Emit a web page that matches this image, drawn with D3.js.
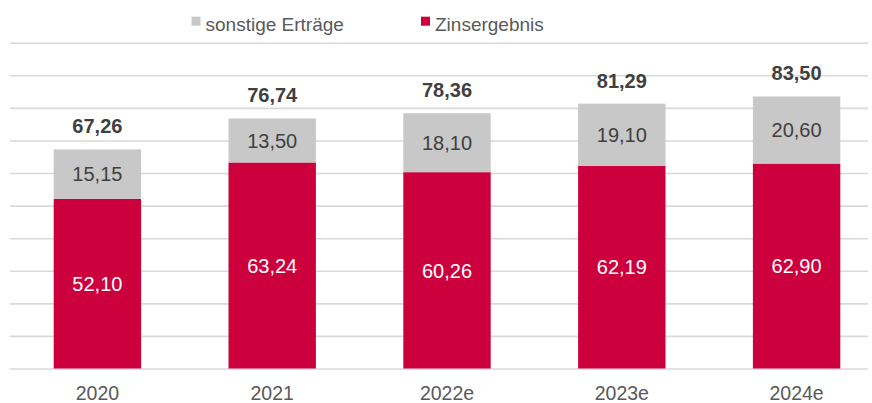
<!DOCTYPE html>
<html>
<head>
<meta charset="utf-8">
<script src="https://cdn.jsdelivr.net/npm/d3@7"></script>
<style>
  body { margin: 0; background: #fff; }
  svg { display: block; font-family: "Liberation Sans", Arial, sans-serif; }
</style>
</head>
<body>
<svg id="chart" width="872" height="403"></svg>
<script>
// Daten
const years = ['2020', '2021', '2022e', '2023e', '2024e']
const zins = [52.10, 63.24, 60.26, 62.19, 62.90]
const sonstige = [15.15, 13.50, 18.10, 19.10, 20.60]
const totals = [67.26, 76.74, 78.36, 81.29, 83.50]
const yTicks = [0, 10, 20, 30, 40, 50, 60, 70, 80, 90, 100]
const seriesNames = ['sonstige Erträge', 'Zinsergebnis']

const red = '#cc003d'
const grey = '#c8c8c8'

const svg = d3.select('#chart')
const fmt = v => d3.format('.2f')(v).replace('.', ',')

const x = d3.scaleBand()
  .domain(years)
  .range([10, 884])
  .paddingInner(0.5)
  .paddingOuter(0.25)

const y = d3.scaleLinear()
  .domain([0, 100])
  .range([368.5, 42.7])

// Gitterlinien
svg.append('g')
  .attr('transform', 'translate(10,0)')
  .call(d3.axisLeft(y).tickValues(yTicks).tickSize(-858).tickFormat(''))
  .call(g => g.select('.domain').remove())
  .call(g => g.selectAll('line').attr('stroke', '#d9d9d9').attr('stroke-width', 1.6))

// x-Achse
svg.append('g')
  .attr('transform', 'translate(0,368.5)')
  .call(d3.axisBottom(x).tickSize(0).tickPadding(18))
  .call(g => g.select('.domain').remove())
  .call(g => g.selectAll('text')
    .attr('font-size', 19.5)
    .attr('fill', '#595959')
    .attr('font-family', '"Liberation Sans", Arial, sans-serif'))

// Balken
const bars = svg.append('g')
bars.selectAll('rect.zins')
  .data(years)
  .join('rect')
  .attr('class', 'zins')
  .attr('x', d => x(d))
  .attr('width', x.bandwidth())
  .attr('y', (d, i) => y(zins[i]))
  .attr('height', (d, i) => y(0) - y(zins[i]))
  .attr('fill', red)

bars.selectAll('rect.sonst')
  .data(years)
  .join('rect')
  .attr('class', 'sonst')
  .attr('x', d => x(d))
  .attr('width', x.bandwidth())
  .attr('y', (d, i) => y(zins[i] + sonstige[i]))
  .attr('height', (d, i) => y(zins[i]) - y(zins[i] + sonstige[i]))
  .attr('fill', grey)

// Beschriftungen
const labels = svg.append('g').attr('text-anchor', 'middle')
labels.selectAll('text.zl')
  .data(years)
  .join('text')
  .attr('x', d => x(d) + x.bandwidth() / 2)
  .attr('y', (d, i) => (y(0) + y(zins[i])) / 2)
  .attr('dy', '0.36em')
  .attr('font-size', 20)
  .attr('fill', '#fff')
  .text((d, i) => fmt(zins[i]))

labels.selectAll('text.sl')
  .data(years)
  .join('text')
  .attr('x', d => x(d) + x.bandwidth() / 2)
  .attr('y', (d, i) => (y(zins[i]) + y(zins[i] + sonstige[i])) / 2)
  .attr('dy', '0.36em')
  .attr('font-size', 20)
  .attr('fill', '#404040')
  .text((d, i) => fmt(sonstige[i]))

labels.selectAll('text.tl')
  .data(years)
  .join('text')
  .attr('x', d => x(d) + x.bandwidth() / 2)
  .attr('y', (d, i) => y(totals[i]) - 16)
  .attr('font-size', 20)
  .attr('font-weight', 'bold')
  .attr('fill', '#404040')
  .text((d, i) => fmt(totals[i]))

// Legende
const legendX = [191.5, 421]
const legend = svg.append('g')
legend.selectAll('rect')
  .data(seriesNames)
  .join('rect')
  .attr('x', (d, i) => legendX[i])
  .attr('y', 16.7)
  .attr('width', 9)
  .attr('height', 9)
  .attr('fill', (d, i) => i === 0 ? grey : red)
legend.selectAll('text')
  .data(seriesNames)
  .join('text')
  .attr('x', (d, i) => legendX[i] + 14)
  .attr('y', 31)
  .attr('font-size', 19)
  .attr('fill', '#595959')
  .text(d => d)
</script>
</body>
</html>
